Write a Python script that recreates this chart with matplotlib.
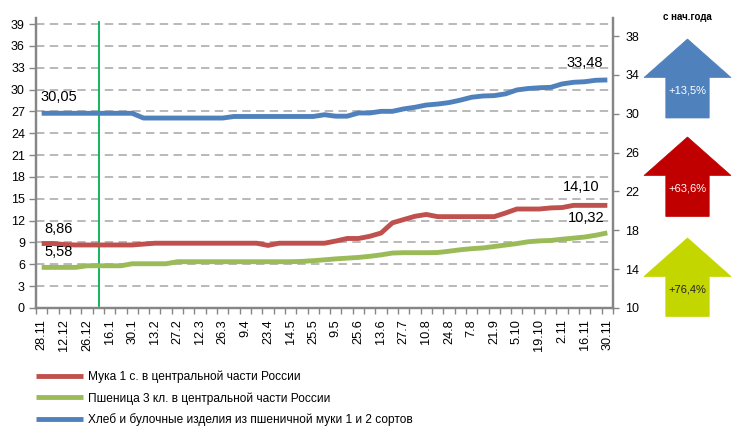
import matplotlib
matplotlib.use('Agg')
import matplotlib.pyplot as plt
from matplotlib.patches import Polygon
from matplotlib.ticker import FixedLocator

plt.rcParams['font.family'] = ['Liberation Sans', 'DejaVu Sans']

date_labels = ['28.11', '12.12', '26.12', '16.1', '30.1', '13.2', '27.2', '12.3', '26.3',
               '9.4', '23.4', '14.5', '25.5', '9.5', '25.6', '13.6', '27.7', '10.8',
               '24.8', '7.8', '21.9', '5.10', '19.10', '2.11', '16.11', '30.11']

flour = [8.86, 8.86, 8.72, 8.66, 8.66, 8.66, 8.66, 8.66, 8.66, 8.78, 8.9,
         8.9, 8.9, 8.9, 8.9, 8.9, 8.9, 8.9, 8.9, 8.9,
         8.6,
         8.9, 8.9, 8.9, 8.9, 8.9,
         9.2, 9.55, 9.55, 9.85, 10.3, 11.7, 12.15, 12.6, 12.85,
         12.55, 12.55, 12.55, 12.55, 12.55, 12.55,
         13.05, 13.6, 13.6, 13.6, 13.75, 13.8, 14.1, 14.1, 14.1, 14.1]

wheat = [5.58, 5.58, 5.58, 5.58, 5.8, 5.8, 5.8, 5.8, 6.08, 6.08, 6.08, 6.08,
         6.36, 6.36, 6.36, 6.36, 6.36, 6.36, 6.36, 6.36, 6.36, 6.36, 6.36,
         6.4, 6.5, 6.62, 6.75, 6.85, 6.95, 7.1, 7.3, 7.55, 7.6, 7.6, 7.6, 7.62,
         7.8, 8.0, 8.15, 8.25, 8.45, 8.65, 8.85, 9.1, 9.22, 9.28, 9.45, 9.6,
         9.75, 10.0, 10.32]

bread = [30.05, 30.05, 30.05, 30.05, 30.05, 30.05, 30.05, 30.05, 30.05,
         29.56, 29.56, 29.56, 29.56, 29.56, 29.56, 29.56, 29.56,
         29.72, 29.72, 29.72, 29.72, 29.72, 29.72, 29.72, 29.72,
         29.9, 29.75, 29.75, 30.08, 30.08, 30.25, 30.25, 30.5, 30.67, 30.9,
         31.0, 31.15, 31.4, 31.7, 31.83, 31.87, 32.05, 32.45, 32.6, 32.68,
         32.72, 33.07, 33.24, 33.3, 33.45, 33.48]

series_names = ['Мука 1 с. в центральной части России',
                'Пшеница 3 кл. в центральной части России',
                'Хлеб и булочные изделия из пшеничной муки 1 и 2 сортов']
change_labels = ['+13,5%', '+63,6%', '+76,4%']
header = 'с нач.года'

C_RED = '#c0504d'
C_GREEN = '#9bbb59'
C_BLUE = '#4f81bd'
GRID = '#a6a6a6'
SPINE = '#868686'

W, H = 742, 426
fig = plt.figure(figsize=(W / 100, H / 100), dpi=100)

left, right, top, bottom = 36, 613, 18.3, 308
ax = fig.add_axes([left / W, 1 - bottom / H, (right - left) / W, (bottom - top) / H])
ax2 = ax.twinx()

x = list(range(len(flour)))
lw = 3.5
l1, = ax.plot(x, flour, color=C_RED, lw=lw, solid_capstyle='butt', zorder=3)
l2, = ax.plot(x, wheat, color=C_GREEN, lw=lw, solid_capstyle='butt', zorder=3)
l3, = ax2.plot(x, bread, color=C_BLUE, lw=lw, solid_capstyle='butt', zorder=3)

ax.set_xlim(-0.5, len(flour) - 0.5)
ax.set_ylim(0, 39.8)
ax2.set_ylim(10, 39.83)

ax.set_yticks(range(0, 40, 3))
ax2.set_yticks(range(10, 39, 4))
ax.set_xticks(range(0, len(flour), 2))
ax.set_xticklabels(date_labels, rotation=90, fontsize=9.2)
ax.xaxis.set_minor_locator(FixedLocator([i - 0.5 for i in range(len(flour) + 1)]))
ax.tick_params(axis='x', which='major', length=0, pad=8)
ax.tick_params(axis='x', which='minor', length=4, color=SPINE, width=1)
ax.tick_params(axis='y', labelsize=9, length=5, color=SPINE, width=1, pad=3)
ax2.tick_params(axis='y', labelsize=9, length=4, color=SPINE, width=1, pad=5)

for gy in range(3, 40, 3):
    ax.axhline(gy, color=GRID, lw=1.1, dashes=(5.5, 3.5), zorder=1)

for a in (ax, ax2):
    a.spines['top'].set_visible(False)
    for s in ('left', 'right', 'bottom'):
        a.spines[s].set_color(SPINE)
        a.spines[s].set_linewidth(1.6)

# marker of the start of the year
ax.axvline(5.05, ymin=0.007, ymax=0.988, color='#00b050', lw=1.3, zorder=2)

def fmt(v):
    return f'{v:.2f}'.replace('.', ',')

lab = dict(textcoords='offset pixels', ha='center', va='center', fontsize=10.5)
ax2.annotate(fmt(bread[0]), xy=(0, bread[0]), xytext=(17, 16), **lab)
ax.annotate(fmt(flour[0]), xy=(0, flour[0]), xytext=(17, 15), **lab)
ax.annotate(fmt(wheat[0]), xy=(0, wheat[0]), xytext=(17, 15), **lab)
ax2.annotate(fmt(bread[-1]), xy=(50, bread[-1]), xytext=(-23, 17), **lab)
ax.annotate(fmt(flour[-1]), xy=(50, flour[-1]), xytext=(-26, 18), **lab)
ax.annotate(fmt(wheat[-1]), xy=(50, wheat[-1]), xytext=(-21, 15), **lab)

# arrows on the right
def px(xp, yp):
    return (xp / W, 1 - yp / H)

def block_arrow(cx, tip, base, bot, color, text, tcolor):
    hh, hs = 43.5, 21.7
    pts = [(cx, tip), (cx + hh, base), (cx + hs, base), (cx + hs, bot),
           (cx - hs, bot), (cx - hs, base), (cx - hh, base)]
    poly = Polygon([px(*p) for p in pts], closed=True, transform=fig.transFigure,
                   facecolor=color, edgecolor=color, lw=0.5)
    fig.patches.append(poly)
    fig.text(*px(cx, base + 13), text, color=tcolor, ha='center', va='center', fontsize=8)

block_arrow(687.5, 39, 77.5, 118, C_BLUE, change_labels[0], 'white')
block_arrow(687.5, 137, 175.5, 216.5, '#c00000', change_labels[1], 'white')
block_arrow(687.5, 238, 276.5, 316.5, '#c4d600', change_labels[2], '#222222')
fig.text(*px(687, 17), header, ha='center', va='center', fontsize=7, fontweight='bold')

fig.legend([l1, l2, l3], series_names, loc='center left',
           bbox_to_anchor=(36 / W, 1 - 398.5 / H), frameon=False, fontsize=8.6,
           handlelength=3.9, handletextpad=0.45, labelspacing=0.72,
           borderpad=0, borderaxespad=0)

fig.savefig('out.png', dpi=100)
